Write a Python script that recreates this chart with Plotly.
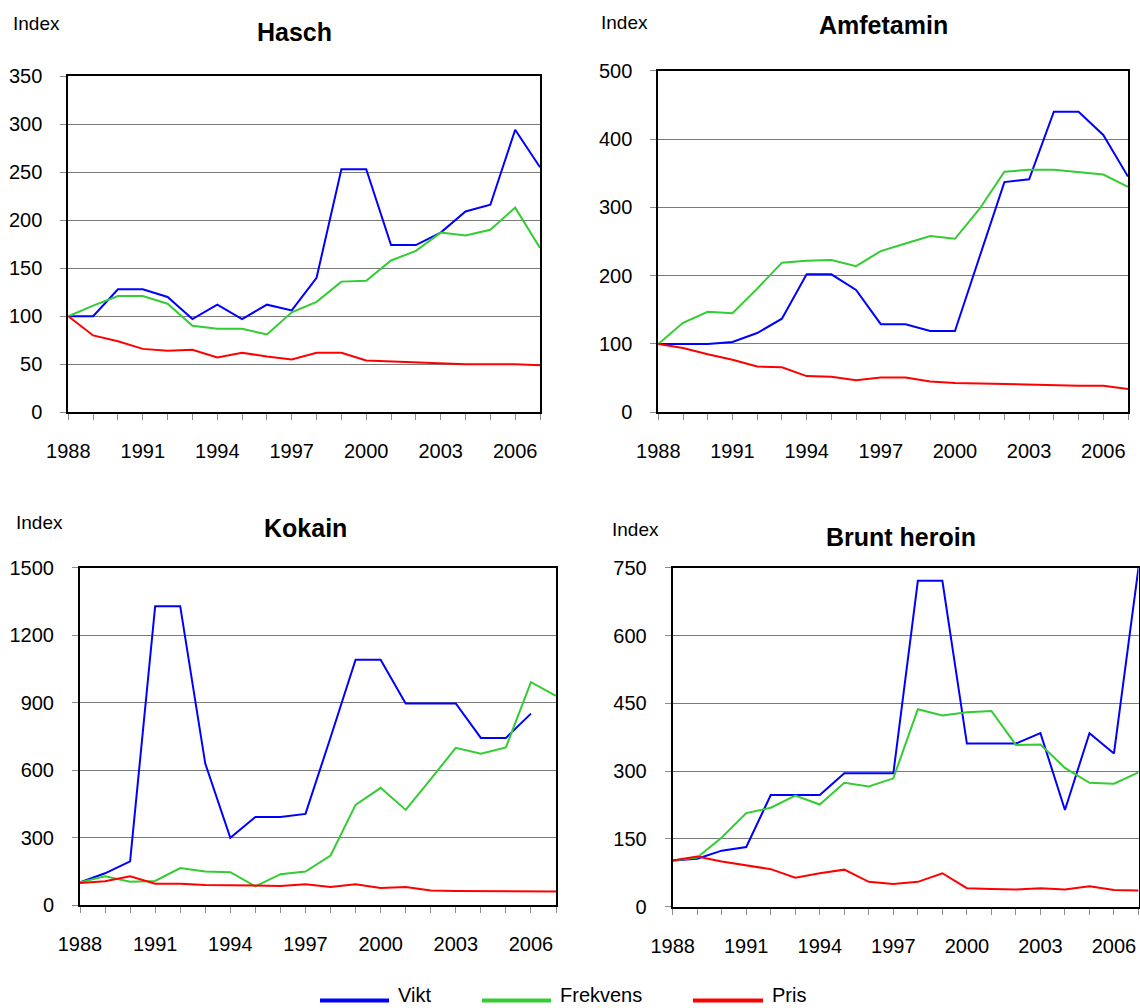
import plotly.graph_objects as go

years = list(range(1988, 2008))

hasch_vikt = [100, 100, 128, 128, 120, 97, 112, 97, 112, 106, 140, 253, 253, 174, 174, 187, 209, 216, 294, 255]
hasch_frekvens = [100, 111, 121, 121, 113, 90, 87, 87, 81, 104, 115, 136, 137, 158, 168, 187, 184, 190, 213, 171]
hasch_pris = [100, 80, 74, 66, 64, 65, 57, 62, 58, 55, 62, 62, 54, 53, 52, 51, 50, 50, 50, 49]

amf_vikt = [100, 100, 100, 103, 116, 137, 202, 202, 179, 129, 129, 119, 119, 228, 337, 341, 440, 440, 406, 345]
amf_frekvens = [100, 131, 147, 145, 181, 219, 222, 223, 214, 236, 247, 258, 254, 298, 352, 355, 355, 351, 348, 330]
amf_pris = [100, 94, 85, 77, 67, 66, 53, 52, 47, 51, 51, 45, 43, 42, 41, 40, 40, 39, 39, 34]

kok_vikt = [101, 141, 194, 1329, 1329, 629, 299, 391, 391, 405, 745, 1091, 1091, 896, 896, 896, 743, 743, 851, None]
kok_frekvens = [101, 128, 103, 107, 164, 149, 146, 83, 137, 149, 220, 445, 521, 423, 560, 699, 673, 701, 991, 930]
kok_pris = [98, 106, 128, 95, 94, 89, 88, 85, 85, 92, 80, 92, 76, 80, 64, 62, 62, 61, 61, 60]

her_vikt = [102, 106, 124, 132, 247, 247, 247, 295, 295, 295, 721, 721, 361, 361, 361, 384, 214, 384, 339, 750]
her_frekvens = [102, 109, 153, 207, 219, 246, 226, 274, 266, 284, 437, 423, 430, 433, 358, 359, 307, 274, 272, 297]
her_pris = [102, 111, 100, 91, 83, 64, 74, 82, 55, 50, 55, 74, 41, 39, 38, 41, 38, 45, 37, 36]

titles = ["Hasch", "Amfetamin", "Kokain", "Brunt heroin"]
series_names = ["Vikt", "Frekvens", "Pris"]
colors = ["#0000FF", "#33CC33", "#FF0000"]
y_ranges = [350, 500, 1500, 750]
y_dticks = [50, 100, 300, 150]

panels = [
    [hasch_vikt, hasch_frekvens, hasch_pris],
    [amf_vikt, amf_frekvens, amf_pris],
    [kok_vikt, kok_frekvens, kok_pris],
    [her_vikt, her_frekvens, her_pris],
]

W, H = 1140, 1008


def px(x):
    return x / W


def py(y):
    return 1 - y / H


# plot areas in page pixels: left, right, top, bottom
boxes = [
    (68.3, 540.0, 76.0, 412.3),
    (658.3, 1128.0, 70.7, 412.3),
    (80.0, 556.0, 567.7, 905.0),
    (672.7, 1138.5, 567.7, 906.7),
]
title_pos = [(294, 32), (883, 25), (305, 528), (901, 537)]
index_pos = [(37, 23), (624, 22), (39, 522), (635, 529)]

FONT = "Liberation Sans, Arial, Helvetica, sans-serif"

fig = go.Figure()
layout = dict(
    template="none",
    width=W, height=H,
    margin=dict(l=0, r=0, t=0, b=0, pad=0),
    paper_bgcolor="white", plot_bgcolor="white",
    showlegend=False,
    font=dict(family=FONT, size=20, color="black"),
)
annotations = []
shapes = []

for i, (vals, box) in enumerate(zip(panels, boxes)):
    n = i + 1
    xa = "x" if n == 1 else f"x{n}"
    ya = "y" if n == 1 else f"y{n}"
    for v, c, name in zip(vals, colors, series_names):
        fig.add_trace(go.Scatter(
            x=years, y=v, mode="lines", name=name,
            line=dict(color=c, width=2),
            xaxis=xa, yaxis=ya, showlegend=False,
            connectgaps=False,
        ))
    l, r, t, b = box
    xkey = "xaxis" if n == 1 else f"xaxis{n}"
    ykey = "yaxis" if n == 1 else f"yaxis{n}"
    layout[xkey] = dict(
        domain=[px(l), px(r)], anchor=ya, automargin=False,
        range=[1988, 2007], tickmode="linear", tick0=1988, dtick=3,
        ticks="outside", ticklen=6, tickwidth=1, tickcolor="#8c8c8c",
        minor=dict(ticks="outside", ticklen=6, tickwidth=1, tickcolor="#8c8c8c", dtick=1, tick0=1988, showgrid=False),
        showgrid=False, zeroline=False,
        showline=True, linecolor="black", linewidth=2, mirror=True,
        tickfont=dict(family=FONT, size=20, color="black"),
        ticklabelstandoff=14,
    )
    layout[ykey] = dict(
        domain=[py(b), py(t)], anchor=xa, automargin=False,
        range=[0, y_ranges[i]], tickmode="linear", tick0=0, dtick=y_dticks[i],
        ticks="outside", ticklen=6, tickwidth=1, tickcolor="#8c8c8c",
        showgrid=True, gridcolor="#7a7a7a", gridwidth=1,
        zeroline=False,
        showline=True, linecolor="black", linewidth=2, mirror=True,
        tickfont=dict(family=FONT, size=20, color="black"),
        ticklabelstandoff=14,
    )
    tx, ty = title_pos[i]
    annotations.append(dict(
        text="<b>" + titles[i] + "</b>", xref="paper", yref="paper",
        x=px(tx), y=py(ty), xanchor="center", yanchor="middle",
        showarrow=False, font=dict(family=FONT, size=25, color="black"),
    ))
    ix, iy = index_pos[i]
    annotations.append(dict(
        text="Index", xref="paper", yref="paper",
        x=px(ix), y=py(iy), xanchor="center", yanchor="middle",
        showarrow=False, font=dict(family=FONT, size=19, color="black"),
    ))

# legend (manual, at bottom)
leg_lines = [(320, 389), (482, 551), (693, 763)]
leg_y = 1000.5
for (x0, x1), c, name in zip(leg_lines, colors, series_names):
    shapes.append(dict(
        type="line", xref="paper", yref="paper",
        x0=px(x0), x1=px(x1), y0=py(leg_y), y1=py(leg_y),
        line=dict(color=c, width=4),
    ))
    annotations.append(dict(
        text=name, xref="paper", yref="paper",
        x=px(x1 + 7), y=py(995), xanchor="left", yanchor="middle",
        showarrow=False, font=dict(family=FONT, size=20, color="black"),
    ))

layout["annotations"] = annotations
layout["shapes"] = shapes
fig.update_layout(**layout)
fig.write_html(
    "out.html",
    config={"displayModeBar": False},
    post_script="document.body.style.margin='0';document.body.style.overflow='hidden';",
)
